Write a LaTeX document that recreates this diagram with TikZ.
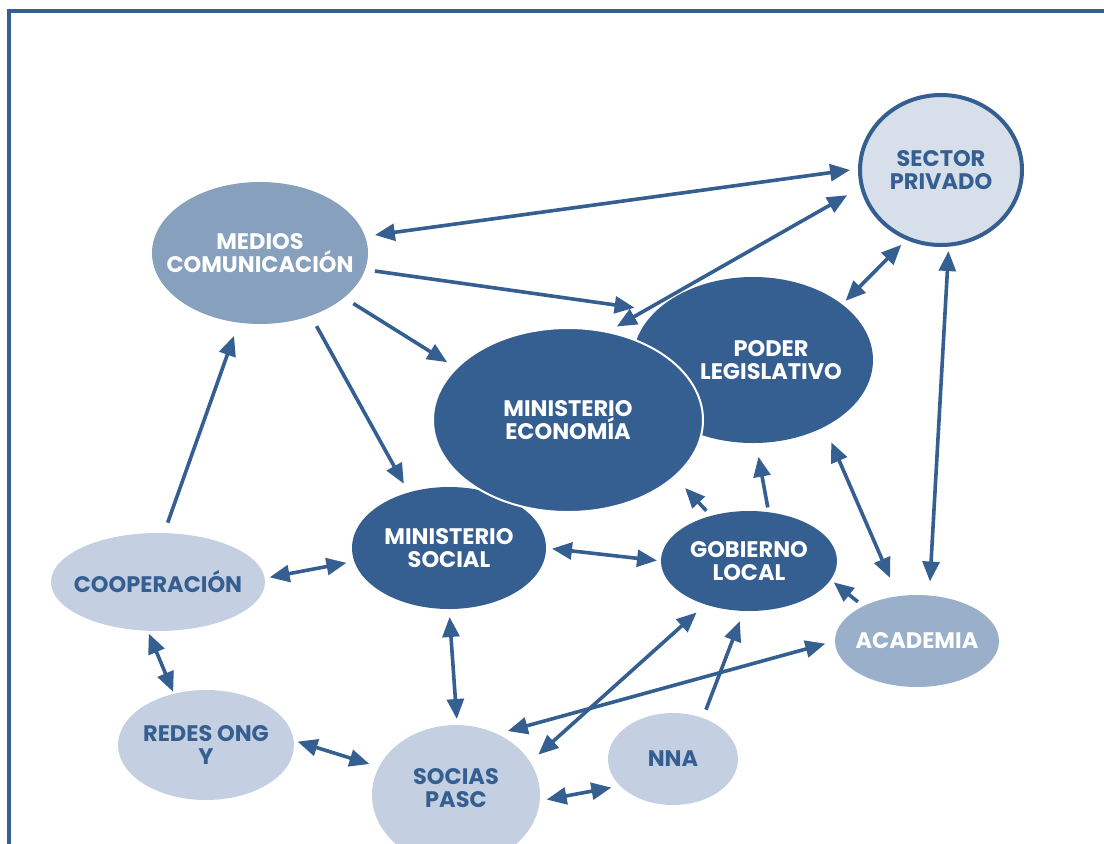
\documentclass[tikz,border=0pt]{standalone}
\usepackage{fontspec}
\setmainfont{Poppins}
\usepackage{tikz}
\usepackage{xcolor}
\usetikzlibrary{shapes.geometric,arrows.meta}

\definecolor{azul}{HTML}{355E91}
\definecolor{medio}{HTML}{86A0BD}
\definecolor{acad}{HTML}{9AAFC9}
\definecolor{claro}{HTML}{C4D0E1}
\definecolor{privado}{HTML}{D7E0EA}

\begin{document}
\begin{tikzpicture}[x=0.25mm, y=-0.25mm,
	actor/.style={ellipse, inner sep=0pt, outer sep=0pt},
	txt/.style={font=\bfseries\fontsize{16}{16.5}\selectfont, align=center},
	blanco/.style={txt, text=white},
	oscuro/.style={txt, text=azul},
	uno/.style={-{Triangle[length=5mm,width=4.2mm]}, line width=0.9mm, azul},
	dos/.style={{Triangle[length=5mm,width=4.2mm]}-{Triangle[length=5mm,width=4.2mm]}, line width=0.9mm, azul}]
	\useasboundingbox (0,0) rectangle (1104,844);
	\clip (0,0) rectangle (1104,844);
	\draw[azul, line width=1mm] (9,10.5) rectangle (1300,1000);

	\node[actor, fill=privado, draw=azul, line width=1mm, minimum width=40.5mm, minimum height=37.5mm,
		label={[oscuro]center:SECTOR\\PRIVADO}] (sp) at (941,170) {};
	\node[actor, fill=medio, minimum width=54mm, minimum height=35.5mm,
		label={[blanco]center:MEDIOS\\COMUNICACIÓN}] (med) at (260,253) {};
	\node[actor, fill=azul, minimum width=60mm, minimum height=41.5mm,
		label={[blanco, xshift=4.5mm]center:PODER\\LEGISLATIVO}] (pl) at (753,360) {};
	\node[actor, fill=azul, minimum width=48.5mm, minimum height=30.5mm,
		label={[blanco]center:MINISTERIO\\SOCIAL}] (ms) at (449,548) {};
	\node[actor, fill=azul, minimum width=44mm, minimum height=25mm,
		label={[blanco]center:GOBIERNO\\LOCAL}] (gl) at (749,561) {};
	\node[actor, fill=acad, minimum width=41mm, minimum height=23mm,
		label={[blanco]center:ACADEMIA}] (ac) at (917,641) {};
	\node[actor, fill=claro, minimum width=53.5mm, minimum height=24.5mm,
		label={[oscuro]center:COOPERACIÓN}] (co) at (158,582) {};
	\node[actor, fill=claro, minimum width=44mm, minimum height=27.5mm,
		label={[oscuro]center:REDES ONG\\Y}] (re) at (206,745) {};
	\node[actor, fill=claro, minimum width=42mm, minimum height=35mm,
		label={[oscuro, yshift=1.75mm]center:SOCIAS\\PASC}] (so) at (456,795) {};
	\node[actor, fill=claro, minimum width=32.5mm, minimum height=23mm,
		label={[oscuro]center:NNA}] (nn) at (673,759) {};
	\node[actor, fill=azul, draw=white, line width=0.5mm, minimum width=67.5mm, minimum height=46mm,
		label={[blanco]center:MINISTERIO\\ECONOMÍA}] (me) at (568,420) {};

	\draw[dos, shorten <=2.5mm, shorten >=2.5mm] (med.9) -- (sp.179);
	\draw[dos, shorten <=2.75mm, shorten >=4.25mm] (me.66) -- (sp.192);
	\draw[uno, shorten <=2.5mm, shorten >=5.5mm] (med.-9) -- (pl.153);
	\draw[uno, shorten <=2.75mm, shorten >=2.75mm] (med.-28) -- (me.155);
	\draw[uno, shorten <=3mm, shorten >=2.5mm] (med.-51) -- (ms.126);
	\draw[uno, shorten <=2.75mm, shorten >=3.5mm] (co.83) -- (med.253);
	\draw[dos, shorten <=1.25mm, shorten >=2mm] (co.2) -- (ms.188);
	\draw[dos, shorten <=0.75mm, shorten >=0.5mm] (co.258) -- (re.122);
	\draw[dos, shorten <=1mm, shorten >=2.5mm] (re.3) -- (so.160);
	\draw[dos, shorten <=2mm, shorten >=1.5mm] (ms.270) -- (so.89);
	\draw[dos, shorten <=1.5mm, shorten >=1mm] (ms.0) -- (gl.180);
	\draw[uno, shorten <=1.75mm, shorten >=3.9mm] (gl.130) -- (me.-28);
	\draw[uno, shorten <=1.25mm, shorten >=3.5mm] (gl.68) -- (pl.-88);
	\draw[dos, shorten <=1.25mm, shorten >=2.25mm] (pl.32) -- (sp.244);
	\draw[dos, shorten <=1.6mm, shorten >=3.5mm] (sp.-84) -- (ac.75);
	\draw[dos, shorten <=4.25mm, shorten >=5mm] (pl.-43) -- (ac.113);
	\draw[uno, shorten <=1.75mm, shorten >=1mm] (ac.147) -- (gl.-13);
	\draw[dos, shorten <=2.5mm, shorten >=2.75mm] (ac.180) -- (so.56);
	\draw[dos, shorten <=3mm, shorten >=2.75mm] (gl.225) -- (so.24);
	\draw[uno, shorten <=2.25mm, shorten >=2.75mm] (nn.54) -- (gl.264);
	\draw[dos, shorten <=1.75mm, shorten >=2.25mm] (so.-4) -- (nn.207);
\end{tikzpicture}
\end{document}
